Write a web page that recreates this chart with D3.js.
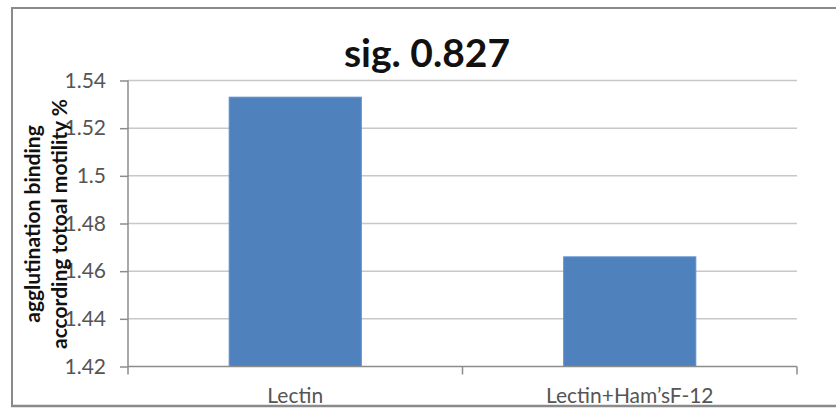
<!DOCTYPE html>
<html>
<head>
<meta charset="utf-8">
<script src="https://cdn.jsdelivr.net/npm/d3@7"></script>
<style>
  html, body { margin: 0; padding: 0; background: #fff; }
  svg { display: block; }
</style>
</head>
<body>
<svg id="chart" width="836" height="408"></svg>
<script>
// Agglutination binding by treatment
const categories = ["Lectin", "Lectin+Ham\u2019sF-12"];
const values = [1.533, 1.466];
const yTicks = [1.42, 1.44, 1.46, 1.48, 1.5, 1.52, 1.54];
const titleText = "sig. 0.827";
const yTitleLines = ["agglutination binding", "according totoal motility %"];

const svg = d3.select("#chart");
const W = 836, H = 408;
const plot = { left: 128, right: 797, top: 80.5, bottom: 366.5 };

// outer chart frame
svg.append("rect")
  .attr("x", 12).attr("y", 8)
  .attr("width", W + 20).attr("height", 398)
  .attr("fill", "#fff")
  .attr("stroke", "#8a8a8a")
  .attr("stroke-width", 2);

const y = d3.scaleLinear().domain([1.42, 1.54]).range([plot.bottom, plot.top]);
const x = d3.scaleBand().domain(categories)
  .range([plot.left, plot.right])
  .paddingInner(0.605).paddingOuter(0.3025);

// horizontal gridlines
svg.append("g")
  .selectAll("line")
  .data(yTicks.slice(1))
  .join("line")
  .attr("x1", plot.left).attr("x2", plot.right)
  .attr("y1", d => y(d)).attr("y2", d => y(d))
  .attr("stroke", "#c8c8c8")
  .attr("stroke-width", 1.5);

// bars
svg.append("g")
  .selectAll("rect")
  .data(categories.map((c, i) => ({ c, v: values[i] })))
  .join("rect")
  .attr("x", d => x(d.c))
  .attr("y", d => y(d.v))
  .attr("width", x.bandwidth())
  .attr("height", d => y(1.42) - y(d.v))
  .attr("fill", "#4f81bd")
  .attr("stroke", "#5a8fd0")
  .attr("stroke-width", 1);

// y axis
const yAxis = svg.append("g")
  .attr("transform", `translate(${plot.left},0)`)
  .call(d3.axisLeft(y).tickValues(yTicks).tickSize(8).tickPadding(14)
    .tickFormat(d => String(+d.toFixed(2))));
yAxis.select(".domain").attr("stroke", "#8c8c8c").attr("stroke-width", 1.5)
  .attr("d", `M0,${plot.top}V${plot.bottom}`);
yAxis.selectAll(".tick line").attr("stroke", "#8c8c8c").attr("stroke-width", 1.5);
yAxis.selectAll(".tick text")
  .attr("fill", "#555")
  .style("font-family", "Lato, 'Open Sans', sans-serif")
  .style("font-size", "21px");

// x axis baseline and category boundary ticks
const step = x.step();
const bounds = categories.map(c => x(c) - (step - x.bandwidth()) / 2).concat([plot.right]);
svg.append("line")
  .attr("x1", plot.left).attr("x2", plot.right)
  .attr("y1", plot.bottom).attr("y2", plot.bottom)
  .attr("stroke", "#8c8c8c").attr("stroke-width", 1.5);
svg.append("g")
  .selectAll("line")
  .data(bounds)
  .join("line")
  .attr("x1", d => d).attr("x2", d => d)
  .attr("y1", plot.bottom).attr("y2", plot.bottom + 8)
  .attr("stroke", "#8c8c8c").attr("stroke-width", 1.5);

// category labels
svg.append("g")
  .selectAll("text")
  .data(categories)
  .join("text")
  .attr("x", d => x(d) + x.bandwidth() / 2)
  .attr("y", 403)
  .attr("text-anchor", "middle")
  .attr("fill", "#555")
  .style("font-family", "Lato, 'Open Sans', sans-serif")
  .style("font-size", "21px")
  .text(d => d);

// bottom frame edge
svg.append("line")
  .attr("x1", 11).attr("x2", W)
  .attr("y1", 406).attr("y2", 406)
  .attr("stroke", "#8a8a8a").attr("stroke-width", 2.5);

// title
svg.append("text")
  .attr("x", 427).attr("y", 67)
  .attr("text-anchor", "middle")
  .attr("fill", "#111")
  .style("font-family", "Lato, 'Open Sans', sans-serif")
  .style("font-weight", "bold")
  .style("font-size", "39px")
  .text(titleText);

// y axis title, two rotated lines
const yTitle = svg.append("text")
  .attr("transform", "translate(0,224) rotate(-90)")
  .attr("text-anchor", "middle")
  .attr("fill", "#111")
  .style("font-family", "Lato, 'Open Sans', sans-serif")
  .style("font-weight", "bold")
  .style("font-size", "21px");
yTitle.selectAll("tspan")
  .data(yTitleLines)
  .join("tspan")
  .attr("x", 0)
  .attr("y", (d, i) => 40 + i * 27)
  .text(d => d);
</script>
</body>
</html>
